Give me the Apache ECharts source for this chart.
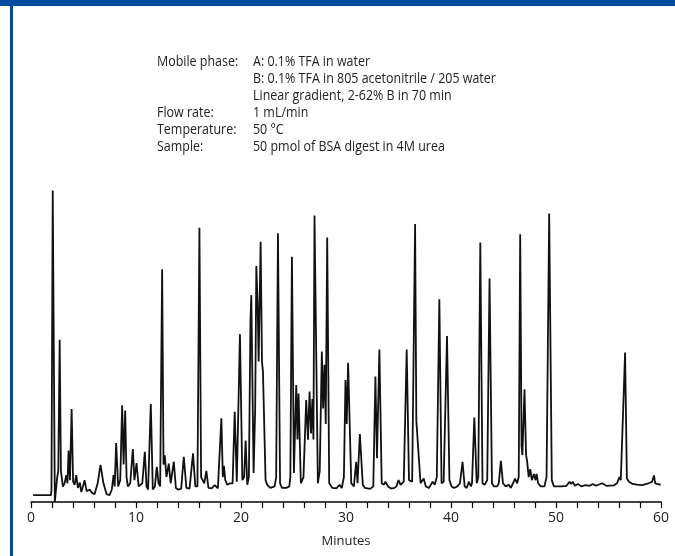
<!DOCTYPE html>
<html>
<head>
<meta charset="utf-8">
<script src="https://cdn.jsdelivr.net/npm/echarts@6/dist/echarts.min.js"></script>
<style>
html,body{margin:0;padding:0;background:#fff;}
#chart{width:675px;height:556px;}
</style>
</head>
<body>
<div id="chart"></div>
<script>
// Retention time (minutes) of each trace vertex
const traceTimes = [
0.2,1.9,1.95,2.07,2.14,2.27,2.35,2.5,2.6,2.73,2.85,3.04,3.2,3.36,3.47,3.58,3.71,3.87,4.01,4.15,4.31,4.47,4.66,4.79,4.95,5.1,5.3,5.6,5.8,6.05,6.35,6.62,6.9,7.2,7.48,7.7,7.86,7.97,8.11,8.3,8.5,8.68,8.82,8.97,9.1,9.22,9.45,9.7,9.85,10.05,10.25,10.4,10.6,10.84,11.0,11.15,11.41,11.6,11.8,11.98,12.15,12.3,12.49,12.62,12.74,12.9,13.12,13.3,13.6,13.8,14.0,14.3,14.55,14.8,15.1,15.43,15.65,15.85,16.04,16.2,16.35,16.5,16.7,16.9,17.2,17.5,17.8,17.95,18.13,18.27,18.38,18.5,18.7,18.95,19.2,19.4,19.6,19.7,19.9,20.13,20.3,20.44,20.6,20.75,20.9,20.98,21.2,21.35,21.46,21.58,21.68,21.87,22.0,22.09,22.34,22.5,22.8,23.2,23.35,23.52,23.72,23.9,24.3,24.6,24.7,24.85,25.04,25.26,25.38,25.48,25.7,25.95,26.21,26.38,26.53,26.67,26.8,26.9,27.0,27.32,27.5,27.7,27.82,27.95,28.07,28.21,28.4,28.7,29.1,29.38,29.6,29.8,29.95,30.07,30.2,30.5,30.75,30.97,31.1,31.32,31.6,31.8,32.3,32.6,32.8,32.95,33.18,33.4,33.6,33.75,34.0,34.3,34.6,34.8,35.0,35.2,35.5,35.78,36.0,36.3,36.58,36.7,36.83,37.1,37.25,37.4,37.6,37.9,38.05,38.25,38.45,38.65,38.89,39.1,39.3,39.62,39.85,40.05,40.3,40.6,40.85,41.1,41.3,41.5,41.7,41.9,42.0,42.22,42.45,42.6,42.79,43.0,43.2,43.45,43.67,43.9,44.1,44.4,44.55,44.75,44.95,45.2,45.5,45.7,45.9,46.1,46.3,46.45,46.59,46.72,46.8,47.0,47.15,47.25,47.4,47.55,47.7,47.9,48.05,48.15,48.3,48.55,48.9,49.1,49.35,49.6,49.8,50.5,51.0,51.3,51.45,51.6,51.8,52.1,52.4,52.8,53.2,53.5,53.8,54.4,54.8,55.5,55.8,56.05,56.17,56.35,56.58,56.75,56.95,57.1,57.3,57.7,58.2,58.8,59.15,59.33,59.45,59.97
];
// Detector signal (relative units, 0 = axis line) at each vertex
const traceSignal = [
2.2,2.2,4,99.8,99.8,0,3,8,10,52,10,4.9,6,8.6,6,16.5,7,29.8,6.5,5.5,8.6,4.5,6.2,3.2,5,7,3.5,4,3,2.5,6,11.9,6,2.5,2.2,4,8.6,5,18.9,5,7,31,12,29.3,8,5,6,17,7,12.5,5,4.5,6,16.1,5,4,31.4,4,5,11.3,6,5,74.6,12,15,8,12.3,6,12.9,4.5,4,4.2,14.5,4.5,4.3,15.6,5,5,87.9,8,8.6,6,10,4.5,4.4,5.4,4.4,5,26.8,8,11.6,7,5.5,6,6,28.9,6.5,7,53.8,7,8,19.7,5.5,8,57.8,66.3,9.3,30,75.6,64,45,83.4,45,41.8,7,5.5,4.5,5,8,86.1,6,4.5,4.5,5,8,78.6,9.3,37.5,20,34.8,6,8,32.7,20,35.4,22,33,20,91.8,6,10,48.2,30,44,25,84.8,6,4.5,4.4,5.5,4.5,8,39.1,25,44.6,6,5,12.9,6,21.8,5.5,4.5,4.2,5,40.2,14,48.9,6,5.5,6.5,5,4.3,4.5,5,7,5.5,6.5,48.9,7,6.5,89.1,26,26.3,6,5.5,7.5,5,4.5,4.5,6.5,5.5,8,65,6,6.5,53.2,7,5,4.5,5,6,12.9,5,4.5,6.5,5,6,27.1,6,8,83.2,6,5.5,7,71.6,6,5,5,6,13.2,6,5,5.5,4.5,6,7.5,6,8,85.8,18,15,36.1,15,13,8,10.5,7,9,7,9,6,5,5,8,92.5,7,5,5,5.2,6.5,5.8,6.5,5.2,5.8,5,5.4,5.2,5.8,5.2,6,5.2,5.3,6,8,7,7.5,47.9,7.5,6.5,7,5.8,5.6,5.4,6,6.5,8.5,6,5.5
];
const xTickLabels = ['0','10','20','30','40','50','60'];
const xAxisTitle = 'Minutes';
const infoLabels = ['Mobile phase:','','','Flow rate:','Temperature:','Sample:'];
const infoValues = ['A: 0.1% TFA in water','B: 0.1% TFA in 805 acetonitrile / 205 water','Linear gradient, 2-62% B in 70 min','1 mL/min','50 \u00B0C','50 pmol of BSA digest in 4M urea'];

const FONT = '"Open Sans", sans-serif';
const traceData = traceTimes.map((t, i) => [t, traceSignal[i]]);

const graphics = [
  {type:'rect', shape:{x:0,y:0,width:675,height:6}, style:{fill:'#004b9b'}, silent:true},
  {type:'rect', shape:{x:10,y:0,width:3,height:556}, style:{fill:'#004b9b'}, silent:true}
];
infoLabels.forEach((s, i) => {
  const y = 62 + i * 17;
  if (s) graphics.push({type:'text', x:157, y:y, scaleX:0.89, style:{text:s, font:'14px ' + FONT, fill:'#222', textVerticalAlign:'middle'}});
  graphics.push({type:'text', x:253, y:y, scaleX:0.89, style:{text:infoValues[i], font:'14px ' + FONT, fill:'#222', textVerticalAlign:'middle'}});
});

const chart = echarts.init(document.getElementById('chart'), null, {renderer:'canvas'});
chart.setOption({
  animation:false,
  backgroundColor:'#fff',
  grid:{left:31, right:14, top:190, bottom:54},
  xAxis:{
    type:'value', min:0, max:60, interval:2,
    axisLine:{show:true, onZero:false, lineStyle:{color:'#000', width:1.5}},
    axisTick:{show:true, length:6, inside:false, lineStyle:{color:'#000', width:1.2}},
    splitLine:{show:false},
    axisLabel:{
      margin:9, color:'#222', fontFamily:FONT, fontSize:14,
      formatter: v => (v % 10 === 0 ? xTickLabels[v / 10] : '')
    },
    name:xAxisTitle, nameLocation:'middle', nameGap:33,
    nameTextStyle:{color:'#222', fontFamily:FONT, fontSize:13}
  },
  yAxis:{type:'value', min:0, max:100, show:false},
  graphic:graphics,
  series:[{
    type:'line', data:traceData, showSymbol:false, smooth:false, clip:false,
    lineStyle:{color:'#111', width:1.8}
  }]
});
</script>
</body>
</html>
